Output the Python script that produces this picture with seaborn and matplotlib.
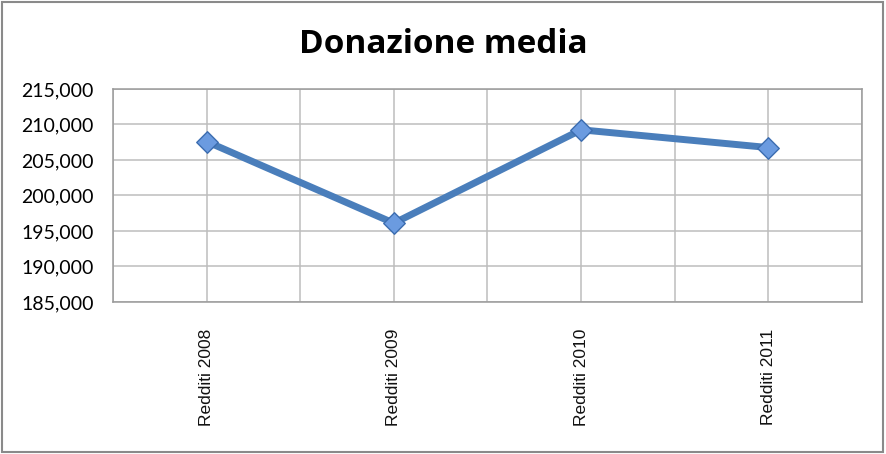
import seaborn as sns
import pandas as pd
import matplotlib.pyplot as plt
from matplotlib.patches import Rectangle
from matplotlib.ticker import FuncFormatter, FixedLocator

categories = ['Redditi 2008', 'Redditi 2009', 'Redditi 2010', 'Redditi 2011']
donazione = [207600, 196100, 209250, 206750]
y_ticks = [185000, 190000, 195000, 200000, 205000, 210000, 215000]

data = pd.DataFrame({'anno': categories, 'val': donazione})

sns.set_style('white')
plt.rcParams['font.family'] = ['Liberation Sans', 'DejaVu Sans']

fig = plt.figure(figsize=(8.87, 4.54), dpi=100)
ax = fig.add_axes([0.1274, 0.3348, 0.8444, 0.4692])

ax.plot(range(len(categories)), data['val'], color='#4a7ebb', lw=5,
        solid_capstyle='round', zorder=3)
sns.scatterplot(x=range(len(categories)), y='val', data=data, marker='D', s=120,
                color='#6b9be0', edgecolor='#3c6db0', linewidth=1, ax=ax, zorder=4)

ax.set_xlim(-0.5, len(categories) - 0.5)
ax.set_ylim(185000, 215000)
ax.set_yticks(y_ticks)
ax.yaxis.set_major_formatter(FuncFormatter(lambda v, p: f'{int(v):,}'))
ax.set_xticks(range(len(categories)))
ax.set_xticklabels(categories, rotation=90, fontsize=12.5, color='#111111')
ax.xaxis.set_minor_locator(FixedLocator([i - 0.5 for i in range(len(categories) + 1)]))

ax.grid(True, which='both', color='#bdbdbd', lw=1.1)
ax.tick_params(axis='x', which='major', length=0, pad=19)
ax.tick_params(axis='x', which='minor', length=6, color='#9a9a9a', width=1)
ax.tick_params(axis='y', length=5, color='#9a9a9a', width=1, pad=9)
for lab in ax.get_yticklabels():
    lab.set_fontfamily(['Lato', 'DejaVu Sans'])
    lab.set_fontsize(14)
    lab.set_color('#000000')
for sp in ax.spines.values():
    sp.set_color('#9a9a9a')
    sp.set_linewidth(1.1)
ax.set_xlabel('')
ax.set_ylabel('')

fig.text(0.5, 0.903, 'Donazione media', ha='center', va='center', color='black',
         fontsize=24, fontweight='bold', family=['Open Sans', 'DejaVu Sans'])

fig.patches.append(Rectangle((0.002, 0.004), 0.994, 0.992, transform=fig.transFigure,
                             fill=False, edgecolor='#8a8a8a', lw=1.5))

plt.savefig('out.png', dpi=100)
